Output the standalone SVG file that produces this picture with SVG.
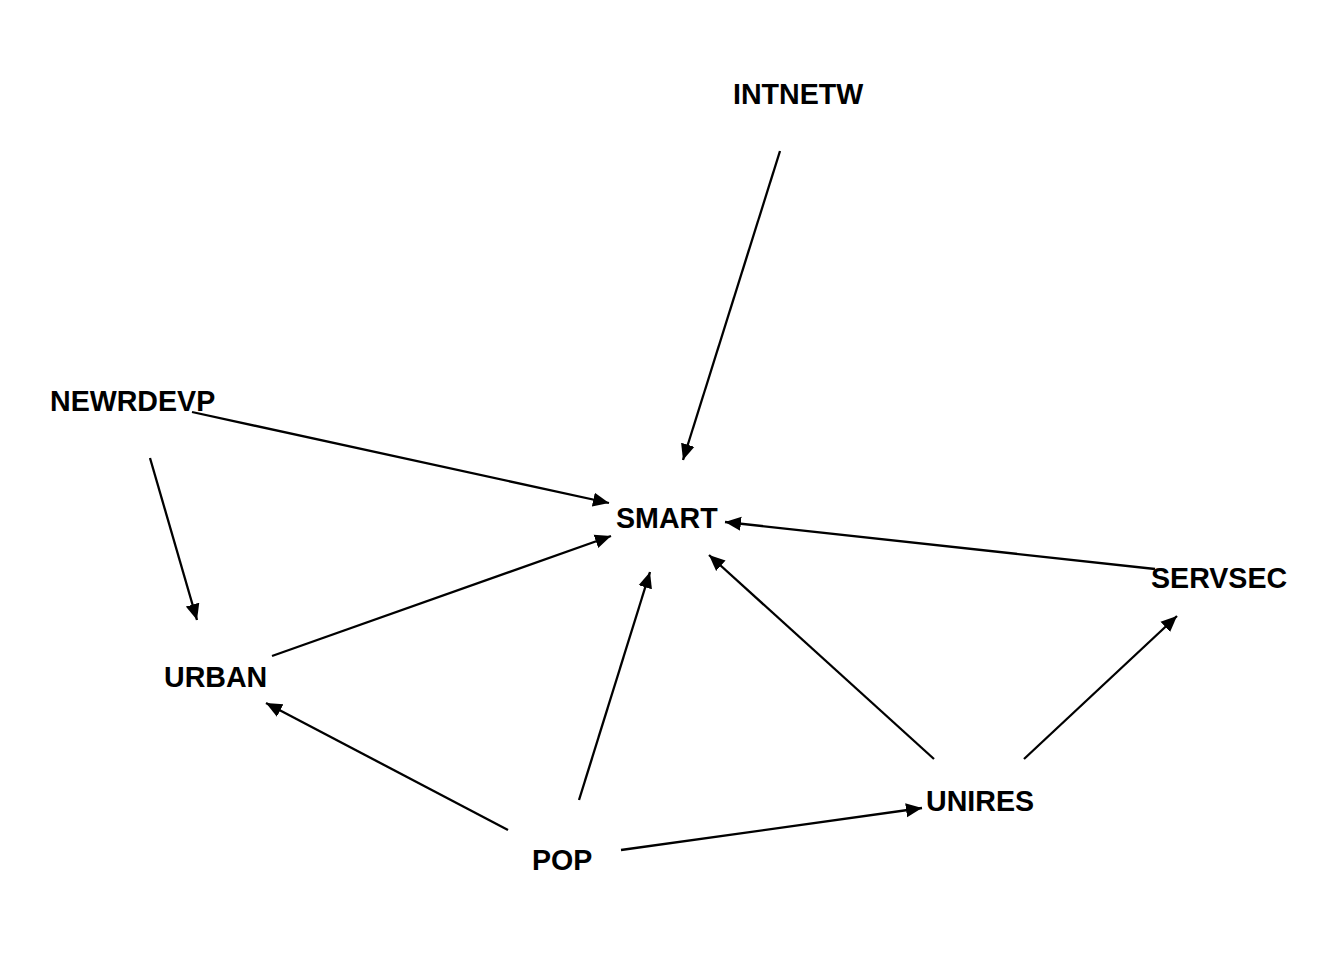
<svg xmlns="http://www.w3.org/2000/svg" width="1344" height="960" viewBox="0 0 1344 960">
<defs>
<style>
.lbl{font-family:"Liberation Sans",Arial,sans-serif;font-weight:bold;font-size:28.6px;fill:#000}
.e{stroke:#000;stroke-width:2.3;fill:none;marker-end:url(#ah)}
</style>
<marker id="ah" markerUnits="userSpaceOnUse" markerWidth="18" markerHeight="16" refX="16" refY="8" orient="auto">
<path d="M0,1 L16,8 L0,15 z" fill="#000"/>
</marker>
</defs>
<rect width="1344" height="960" fill="#fff"/>
<g id="connectors">
<line class="e" x1="780" y1="151" x2="683" y2="460"/>
<line class="e" x1="192" y1="412" x2="609" y2="503"/>
<line class="e" x1="150" y1="458" x2="197" y2="620"/>
<line class="e" x1="272" y1="656" x2="611" y2="536"/>
<line class="e" x1="508" y1="830" x2="266" y2="703"/>
<line class="e" x1="579" y1="800" x2="650" y2="572"/>
<line class="e" x1="621" y1="850" x2="922" y2="808"/>
<line class="e" x1="934" y1="759" x2="709" y2="555"/>
<line class="e" x1="1024" y1="759" x2="1177" y2="616"/>
<line class="e" x1="1155" y1="569" x2="725" y2="522"/>
</g>
<g id="node-INTNETW"><text class="lbl" x="733" y="104">INTNETW</text></g>
<g id="node-NEWRDEVP"><text class="lbl" x="50" y="411">NEWRDEVP</text></g>
<g id="node-SMART"><text class="lbl" x="616" y="528">SMART</text></g>
<g id="node-SERVSEC"><text class="lbl" x="1151" y="588">SERVSEC</text></g>
<g id="node-URBAN"><text class="lbl" x="164" y="687">URBAN</text></g>
<g id="node-UNIRES"><text class="lbl" x="926" y="811">UNIRES</text></g>
<g id="node-POP"><text class="lbl" x="532" y="870">POP</text></g>
</svg>
